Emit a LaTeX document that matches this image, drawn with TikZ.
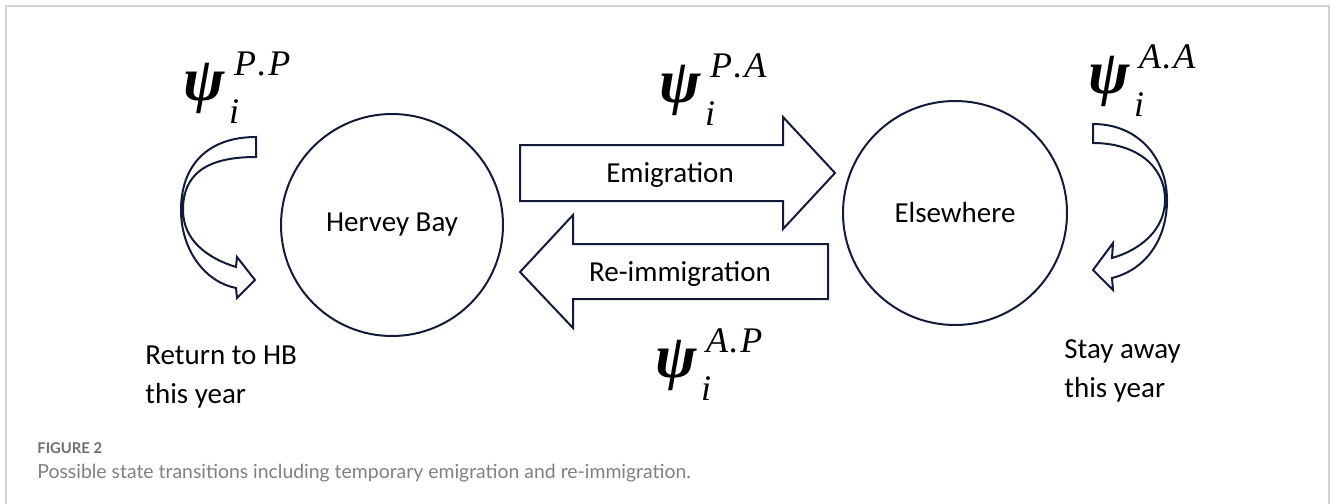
\RequirePackage{fix-cm}
\documentclass[tikz,border=0pt]{standalone}
\usepackage{fontspec}
\newfontfamily\labelfont{Carlito}
\newfontfamily\capfont{Lato}
\newfontfamily\psifont{Liberation Serif}
\usepackage{tikz}
\usetikzlibrary{arrows.meta,positioning,calc}
\usepackage{xcolor}

% psi with subscript i and a raised state pair
\newcommand{\psilab}[2]{\psifont\itshape{\bfseries\fontsize{31}{36}\selectfont ψ}%
  \rlap{\fontsize{18}{21}\selectfont\raisebox{-11.5pt}{\kern2pt i}}%
  \raisebox{12.5pt}{\fontsize{18}{21}\selectfont\kern4.5pt #1\kern0.8pt.\kern0.8pt#2}}

\begin{document}
\begin{tikzpicture}[x=0.5pt,y=-0.5pt]
% Define colors
\definecolor{statenavy}{RGB}{18,28,58}
\definecolor{framegray}{RGB}{210,210,210}
\definecolor{capdark}{RGB}{110,110,110}
\definecolor{caplight}{RGB}{128,128,128}

\tikzset{
  state/.style={circle,draw=statenavy,line width=1pt,minimum size=#1,inner sep=0pt,
    font=\labelfont\fontsize{14.5}{17}\selectfont},
  blockarrow/.style={draw=statenavy,line width=1pt,fill=white,line join=miter},
  lbl/.style={font=\labelfont\fontsize{14.5}{17}\selectfont,inner sep=0pt},
  note/.style={font=\labelfont\fontsize{14.5}{19.75}\selectfont,align=left,inner sep=0pt,anchor=north west},
  prob/.style={inner sep=0pt}
}

\useasboundingbox (0,0) rectangle (1332,503);

% Frame
\draw[framegray,line width=0.75pt] (6,540) -- (6,6) -- (1329,6) -- (1329,540);

% States
\node[state=111pt] (hb) at (392,225) {Hervey Bay};
\node[state=112pt] (el) at (955,213) {Elsewhere};

% Emigration / re-immigration
\draw[blockarrow] (520,145) -- (783,145) -- (783,117) -- (835,173) -- (783,229) -- (783,201) -- (520,201) -- cycle;
\node[lbl] (emig) at (670,175) {Emigration};
\draw[blockarrow] (828,244) -- (573,244) -- (573,215) -- (520,272) -- (573,328) -- (573,299) -- (828,299) -- cycle;
\node[lbl] (reimm) at (680,274) {Re-immigration};

% Stay in Hervey Bay
\draw[blockarrow] (256,137) .. controls (208,137) and (181,165) .. (181,210)
  .. controls (181,250) and (205,282) .. (236,288) -- (237,298) -- (255,280) -- (237,257) -- (236,267)
  .. controls (207,258) and (183,240) .. (183,210)
  .. controls (183,175) and (205,157) .. (256,157) -- cycle;

% Stay elsewhere
\draw[blockarrow] (1093,124) .. controls (1140,124) and (1167,160) .. (1167,200)
  .. controls (1167,240) and (1145,270) .. (1112,278) -- (1113,290) -- (1093,270) -- (1113,243) -- (1112,258)
  .. controls (1140,250) and (1165,230) .. (1165,200)
  .. controls (1165,165) and (1135,143) .. (1093,143) -- cycle;

% Transition probabilities
\node[prob] (psiPP) at (237,88) {\psilab{P}{P}};
\node[prob] (psiPA) at (713,90) {\psilab{P}{A}};
\node[prob] (psiAP) at (709,365) {\psilab{A}{P}};
\node[prob] (psiAA) at (1142,81) {\psilab{A}{A}};

% Notes
\node[note] (ret) at (145,345) {Return to HB\\this year};
\node[note] (stay) at (1064,339) {Stay away\\this year};

% Caption
\node[anchor=base west,inner sep=0pt,text=capdark,font=\capfont\bfseries\fontsize{7.4}{8}\selectfont] (fig) at (37,453) {FIGURE 2};
\node[anchor=base west,inner sep=0pt,text=caplight,font=\capfont\fontsize{9.7}{12}\selectfont] (cap) at (37,478) {Possible state transitions including temporary emigration and re-immigration.};
\end{tikzpicture}
\end{document}
